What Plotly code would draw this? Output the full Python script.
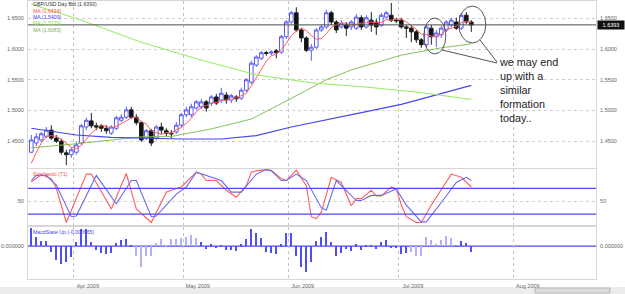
import pandas as pd
import plotly.graph_objects as go

# ---------------- data ----------------
start_date = "2009-03-19"
n_days = 89
dates = pd.bdate_range(start_date, periods=n_days)
idx = list(range(n_days))

open_ = [1.432, 1.447, 1.452, 1.458, 1.468, 1.455, 1.450, 1.431, 1.428, 1.432,
         1.447, 1.473, 1.483, 1.475, 1.475, 1.471, 1.463, 1.471, 1.484, 1.489,
         1.501, 1.489, 1.480, 1.455, 1.467, 1.455, 1.473, 1.467, 1.463, 1.465,
         1.476, 1.493, 1.493, 1.504, 1.506, 1.514, 1.512, 1.522, 1.517, 1.525,
         1.517, 1.522, 1.520, 1.533, 1.546, 1.574, 1.585, 1.594, 1.5935, 1.597,
         1.595, 1.620, 1.644, 1.659, 1.631, 1.618, 1.598, 1.603, 1.631, 1.636,
         1.659, 1.644, 1.636, 1.639, 1.636, 1.634, 1.651, 1.636, 1.647, 1.644,
         1.639, 1.652, 1.655, 1.647, 1.647, 1.636, 1.634, 1.628, 1.615, 1.607,
         1.634, 1.620, 1.623, 1.631, 1.639, 1.644, 1.634, 1.655, 1.644]
high = [1.460, 1.463, 1.465, 1.473, 1.476, 1.460, 1.454, 1.436, 1.439, 1.449,
        1.478, 1.488, 1.496, 1.480, 1.478, 1.476, 1.476, 1.491, 1.494, 1.506,
        1.506, 1.494, 1.483, 1.470, 1.470, 1.476, 1.480, 1.471, 1.468, 1.481,
        1.496, 1.506, 1.511, 1.517, 1.519, 1.517, 1.525, 1.527, 1.537, 1.530,
        1.527, 1.525, 1.537, 1.553, 1.581, 1.590, 1.597, 1.597, 1.598, 1.600,
        1.623, 1.647, 1.662, 1.668, 1.634, 1.621, 1.608, 1.634, 1.639, 1.664,
        1.662, 1.647, 1.647, 1.644, 1.647, 1.657, 1.655, 1.655, 1.660, 1.649,
        1.659, 1.662, 1.675, 1.651, 1.651, 1.639, 1.638, 1.631, 1.618, 1.639,
        1.639, 1.631, 1.638, 1.647, 1.651, 1.651, 1.659, 1.660, 1.647]
low = [1.431, 1.442, 1.449, 1.455, 1.452, 1.447, 1.428, 1.411, 1.423, 1.428,
       1.444, 1.468, 1.471, 1.468, 1.465, 1.462, 1.460, 1.468, 1.481, 1.486,
       1.486, 1.476, 1.449, 1.452, 1.442, 1.452, 1.462, 1.457, 1.455, 1.462,
       1.473, 1.489, 1.489, 1.501, 1.502, 1.498, 1.507, 1.509, 1.512, 1.511,
       1.512, 1.514, 1.517, 1.530, 1.543, 1.571, 1.582, 1.589, 1.590, 1.585,
       1.592, 1.616, 1.641, 1.628, 1.611, 1.595, 1.581, 1.600, 1.628, 1.633,
       1.639, 1.626, 1.633, 1.621, 1.631, 1.631, 1.631, 1.633, 1.628, 1.623,
       1.636, 1.649, 1.644, 1.642, 1.633, 1.618, 1.611, 1.610, 1.602, 1.603,
       1.607, 1.603, 1.618, 1.628, 1.636, 1.631, 1.631, 1.641, 1.628]
close = [1.452, 1.457, 1.462, 1.468, 1.455, 1.450, 1.432, 1.428, 1.436, 1.444,
         1.475, 1.484, 1.475, 1.473, 1.471, 1.467, 1.473, 1.488, 1.489, 1.501,
         1.489, 1.480, 1.452, 1.467, 1.447, 1.473, 1.468, 1.463, 1.462, 1.476,
         1.493, 1.501, 1.506, 1.514, 1.514, 1.504, 1.522, 1.512, 1.528, 1.517,
         1.524, 1.519, 1.533, 1.550, 1.577, 1.587, 1.594, 1.593, 1.5951, 1.594,
         1.620, 1.644, 1.659, 1.631, 1.618, 1.598, 1.603, 1.631, 1.636, 1.659,
         1.644, 1.631, 1.642, 1.634, 1.644, 1.652, 1.636, 1.651, 1.639, 1.636,
         1.655, 1.659, 1.647, 1.646, 1.636, 1.634, 1.628, 1.615, 1.607, 1.636,
         1.620, 1.626, 1.634, 1.644, 1.647, 1.634, 1.655, 1.644, 1.6393]

ma_red = [1.414, 1.432, 1.447, 1.457, 1.459, 1.458, 1.453, 1.447, 1.440, 1.438,
          1.443, 1.453, 1.463, 1.470, 1.476, 1.474, 1.472, 1.474, 1.478, 1.483,
          1.488, 1.489, 1.482, 1.478, 1.467, 1.464, 1.461, 1.464, 1.463, 1.469,
          1.472, 1.479, 1.487, 1.498, 1.505, 1.508, 1.512, 1.513, 1.516, 1.517,
          1.521, 1.520, 1.524, 1.528, 1.540, 1.553, 1.568, 1.580, 1.589, 1.592,
          1.599, 1.609, 1.622, 1.629, 1.634, 1.630, 1.622, 1.616, 1.617, 1.625,
          1.635, 1.640, 1.642, 1.642, 1.639, 1.641, 1.642, 1.643, 1.644, 1.643,
          1.643, 1.648, 1.647, 1.649, 1.649, 1.644, 1.638, 1.632, 1.624, 1.624,
          1.621, 1.621, 1.624, 1.632, 1.634, 1.637, 1.643, 1.645, 1.6434]

ma_blue_idx = [0, 9, 16, 30, 38, 45, 52, 60, 67, 74, 82, 88]
ma_blue = [1.471, 1.460, 1.456, 1.4535, 1.4535, 1.459, 1.473, 1.486, 1.498, 1.510, 1.527, 1.5409]

ma_lgreen_idx = [0, 10, 22, 34, 45, 56, 67, 78, 88]
ma_lgreen = [1.673, 1.647, 1.611, 1.582, 1.558, 1.545, 1.538, 1.529, 1.5179]

ma_dgreen_idx = [0, 8, 22, 28, 36, 44, 50, 55, 59, 64, 74, 82, 88]
ma_dgreen = [1.439, 1.445, 1.457, 1.4576, 1.470, 1.486, 1.511, 1.532, 1.550, 1.566, 1.590, 1.602, 1.6083]

stoch_k_idx = [0, 2, 4, 5, 7, 11, 12, 16, 19, 21, 24, 27, 28, 30, 33, 34, 35, 37, 39, 41,
               43, 44, 45, 47, 48, 50, 51, 53, 55, 56, 57, 58, 60, 62, 64, 65, 66, 68, 69,
               70, 72, 73, 74, 75, 77, 78, 80, 82, 84, 86, 88]
stoch_k = [80, 91, 85, 70, 17, 92, 92, 38, 93, 38, 17, 64, 67, 72, 95, 92, 82, 82, 67, 56,
           74, 95, 97, 99, 98, 85, 82, 98, 74, 26, 23, 33, 87, 79, 43, 54, 54, 67, 58,
           58, 72, 69, 44, 26, 17, 17, 44, 69, 92, 87, 72]
stoch_d_idx = [0, 1, 3, 5, 8, 9, 13, 17, 20, 21, 24, 25, 29, 31, 33, 35, 38, 40, 42, 45,
               47, 48, 50, 51, 53, 55, 58, 59, 61, 65, 66, 68, 70, 73, 75, 78, 79, 82, 85,
               87, 88]
stoch_d = [82, 90, 90, 75, 26, 27, 90, 46, 82, 82, 26, 27, 61, 72, 95, 90, 82, 64, 64, 92,
           99, 97, 82, 82, 92, 82, 40, 36, 82, 51, 51, 59, 59, 69, 44, 18, 18, 48, 79,
           87, 82]

macd_hist = [0.0030, 0.00155, 0.00085, 0.00085, -0.0009, -0.00224, -0.0029, -0.0025, -0.0018, 0.0007,
             0.0027, 0.0027, 0.0006, -0.0006, -0.0011, -0.0013, -0.0011, 0.0005, 0.0010, 0.0011,
             0.0001, -0.00155, -0.0034, -0.00165, -0.00155, 0.0005, 0.0011, 0.00016, 0.0011, 0.00123,
             0.00133, 0.00155, 0.00176, 0.0014, 0.0007, -0.00048, 0.00032, -0.00037, 0.00005, -0.0006,
             -0.0006, -0.00075, 0.00032, 0.00123, 0.0027, 0.0022, 0.0014, -0.0010, -0.0011, -0.0013,
             0.00032, 0.0022, 0.0022, -0.00155, -0.0034, -0.0042, -0.0026, 0.00085, 0.00155, 0.0023,
             0.0006, -0.00165, -0.0011, -0.00048, -0.00075, 0.00032, -0.0006, 0.00005, 0.00005, -0.00048,
             0.0007, 0.0010, -0.0002, -0.00037, -0.0013, -0.0011, -0.0010, -0.00155, -0.00155, 0.00155,
             0.0010, 0.00043, 0.0010, 0.00165, 0.0014, -0.0001, 0.00085, 0.00048, -0.000965]
macd_state = ["dark"] * 21 + ["light"] * 13 + ["dark"] * 42 + ["light"] * 9 + ["dark"] * 4

# ---------------- layout helpers ----------------
W, H = 625, 294
def px_y(p):
    return 1 - p / H

XL, XR = 28 / W, 596 / W
x_range = [-0.66, 112.94]
main_dom = [px_y(168), px_y(1)]
stoch_dom = [px_y(225), px_y(169)]
macd_dom = [px_y(279), px_y(227)]
price_range = [1.4063, 1.6782]
stoch_range = [13.1, 99.9]
macd_range = [-0.0053, 0.0031]

ext = pd.bdate_range(start_date, periods=n_days + 40)
tick_pos, tick_txt = [], []
for k in range(1, len(ext)):
    if ext[k].month != ext[k - 1].month:
        tick_pos.append(k - 0.5)
        tick_txt.append(ext[k].strftime("%b %Y"))

FONT = "Liberation Sans, Arial, sans-serif"
tickfont = dict(family=FONT, size=5.5, color="#666666")

fig = go.Figure()

fig.add_trace(go.Candlestick(
    x=idx, open=open_, high=high, low=low, close=close,
    increasing=dict(line=dict(color="#5a5af2", width=1), fillcolor="#ffffff"),
    decreasing=dict(line=dict(color="#1e1e1e", width=1), fillcolor="#111111"),
    whiskerwidth=0, xaxis="x", yaxis="y", showlegend=False))
fig.add_trace(go.Scatter(x=ma_dgreen_idx, y=ma_dgreen, mode="lines",
                         line=dict(color="#86c15a", width=1), xaxis="x", yaxis="y", showlegend=False))
fig.add_trace(go.Scatter(x=ma_blue_idx, y=ma_blue, mode="lines",
                         line=dict(color="#4646ee", width=1.2), xaxis="x", yaxis="y", showlegend=False))
fig.add_trace(go.Scatter(x=idx, y=ma_red, mode="lines",
                         line=dict(color="#ff5a5a", width=1), xaxis="x", yaxis="y", showlegend=False))
fig.add_trace(go.Scatter(x=ma_lgreen_idx, y=ma_lgreen, mode="lines",
                         line=dict(color="#95ea5c", width=1), xaxis="x", yaxis="y4", showlegend=False))

fig.add_trace(go.Scatter(x=stoch_k_idx, y=stoch_k, mode="lines",
                         line=dict(color="#ff5c5c", width=1.1), xaxis="x2", yaxis="y2", showlegend=False))
fig.add_trace(go.Scatter(x=stoch_d_idx, y=stoch_d, mode="lines",
                         line=dict(color="#6a6af0", width=1.1), xaxis="x2", yaxis="y5", showlegend=False))

bar_colors = ["#4f4ff5" if s == "dark" else "#b2b2f4" for s in macd_state]
fig.add_trace(go.Bar(x=idx, y=macd_hist, marker=dict(color=bar_colors, line=dict(width=0)),
                     width=0.32, xaxis="x3", yaxis="y6", showlegend=False))

common_x = dict(range=x_range, domain=[XL, XR], tickvals=tick_pos, ticktext=tick_txt,
                showgrid=True, gridcolor="#c4c4c4", griddash="dot", gridwidth=1,
                showline=True, linecolor="#d6d6d6", mirror=True, ticks="", zeroline=False,
                tickfont=tickfont)

def yax(dom, rng, vals, fmt, side, grid, **kw):
    d = dict(domain=dom, range=rng, tickvals=vals, tickformat=fmt, side=side,
             showgrid=grid, gridcolor="#cfcfcf", griddash="dot", zeroline=False,
             showline=True, linecolor="#d6d6d6", ticks="", tickfont=tickfont, ticklabelstandoff=2)
    d.update(kw)
    return d

price_ticks = [1.45, 1.50, 1.55, 1.60, 1.65]
fig.update_layout(
    width=W, height=H, margin=dict(l=0, r=0, t=0, b=0),
    paper_bgcolor="#ffffff", plot_bgcolor="#ffffff",
    boxgap=0.15, boxgroupgap=0.15, bargap=0,
    xaxis=dict(common_x, anchor="y", showticklabels=False, rangeslider=dict(visible=False)),
    xaxis2=dict(common_x, anchor="y2", showticklabels=False),
    xaxis3=dict(common_x, anchor="y3", showticklabels=True, ticklabelshift=14, ticklabelstandoff=1),
    yaxis=yax(main_dom, price_range, price_ticks, ".4f", "left", True, anchor="x"),
    yaxis4=yax(main_dom, price_range, price_ticks, ".4f", "right", False, anchor="x", overlaying="y"),
    yaxis2=yax(stoch_dom, stoch_range, [50], "d", "left", True, anchor="x2"),
    yaxis5=yax(stoch_dom, stoch_range, [50], "d", "right", False, anchor="x2", overlaying="y2"),
    yaxis3=yax(macd_dom, macd_range, [0], ".6f", "left", False, anchor="x3"),
    yaxis6=yax(macd_dom, macd_range, [0], ".6f", "right", False, anchor="x3", overlaying="y3"),
    hovermode=False,
)

shapes = []
# last price line
shapes.append(dict(type="line", xref="x domain", yref="y", x0=0, x1=1, y0=close[-1], y1=close[-1],
                   line=dict(color="#4a4a4a", width=1)))
# stochastic levels
for lv in (70, 30):
    shapes.append(dict(type="line", xref="x2 domain", yref="y2", x0=0, x1=1, y0=lv, y1=lv,
                       line=dict(color="#4a4af0", width=1.2)))
# macd zero line
shapes.append(dict(type="line", xref="x3 domain", yref="y3", x0=0, x1=1, y0=0, y1=0,
                   line=dict(color="#4a4af0", width=1.2), layer="below"))
# circled formations
shapes.append(dict(type="circle", xref="x", yref="y", x0=78.5, x1=82.9, y0=1.5919, y1=1.6505,
                   line=dict(color="#555555", width=1)))
shapes.append(dict(type="circle", xref="x", yref="y", x0=85.5, x1=90.9, y0=1.6098, y1=1.6700,
                   line=dict(color="#555555", width=1)))
# pointer lines to the note
shapes.append(dict(type="line", xref="paper", yref="paper", x0=442 / W, y0=px_y(50),
                   x1=497 / W, y1=px_y(63), line=dict(color="#555555", width=1)))
shapes.append(dict(type="line", xref="paper", yref="paper", x0=480 / W, y0=px_y(40),
                   x1=497 / W, y1=px_y(62), line=dict(color="#555555", width=1)))
# bottom scroll strip
shapes.append(dict(type="rect", xref="paper", yref="paper", x0=0, x1=1, y0=0, y1=px_y(287),
                   fillcolor="#ececec", line=dict(width=0), layer="below"))
shapes.append(dict(type="rect", xref="paper", yref="paper", x0=535 / W, x1=610 / W,
                   y0=px_y(293), y1=px_y(288), fillcolor="#dcdcdc",
                   line=dict(color="#b8b8b8", width=1)))
fig.update_layout(shapes=shapes)

ann = []
legend_rows = [
    (f"GBP/USD Day Bid ({close[-1]:.4f})", "#333333", 4.3),
    (f"MA ({ma_red[-1]:.4f})", "#ff4a4a", 10.7),
    (f"MA ({ma_blue[-1]:.4f})", "#4646ee", 17.0),
    (f"MA ({ma_lgreen[-1]:.4f})", "#86e050", 23.4),
    (f"MA ({ma_dgreen[-1]:.4f})", "#7aae5a", 29.8),
]
for txt, col, ypx in legend_rows:
    ann.append(dict(text=txt, x=31 / W, y=px_y(ypx), xref="paper", yref="paper",
                    xanchor="left", yanchor="middle", showarrow=False,
                    font=dict(family=FONT, size=5.2, color=col)))
ann.append(dict(text="Stochastic (71)", x=31 / W, y=px_y(174), xref="paper", yref="paper",
                xanchor="left", yanchor="middle", showarrow=False,
                font=dict(family=FONT, size=5.2, color="#ff4a4a")))
ann.append(dict(text=f"MacdState Up ({macd_hist[-1]:.6f})", x=31 / W, y=px_y(232), xref="paper",
                yref="paper", xanchor="left", yanchor="middle", showarrow=False,
                font=dict(family=FONT, size=5.2, color="#4646ee")))
ann.append(dict(text=f"{close[-1]:.4f}", x=597 / W, y=close[-1], xref="paper", yref="y",
                xanchor="left", yanchor="middle", showarrow=False, bgcolor="#111111",
                width=24, borderpad=1, font=dict(family=FONT, size=5.5, color="#ffffff")))
ann.append(dict(text="we may end<br>up with a<br>similar<br>formation<br>today..",
                x=497 / W, y=px_y(90), xref="paper", yref="paper", xanchor="left",
                yanchor="middle", align="left", showarrow=False,
                font=dict(family=FONT, size=10.8, color="#222222")))
fig.update_layout(annotations=ann)

fig.write_html("out.html")
